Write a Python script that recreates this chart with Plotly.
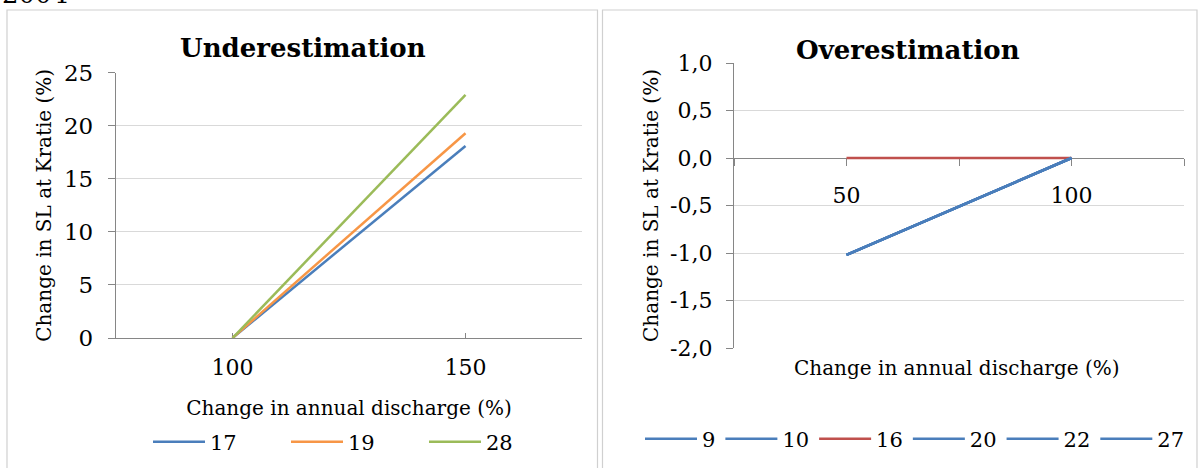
import plotly.graph_objects as go

# ---- data -------------------------------------------------------------
under_x = [100, 150]
under_series = {
    "17": [0.0, 18.1],
    "19": [0.0, 19.3],
    "28": [0.0, 22.9],
}
under_colors = {"17": "#4A7EBB", "19": "#F79646", "28": "#9BBB59"}

over_x = [50, 100]
over_series = {
    "9": [-1.02, 0.0],
    "10": [-1.02, 0.0],
    "16": [0.0, 0.0],
    "20": [-1.02, 0.0],
    "22": [-1.02, 0.0],
    "27": [-1.02, 0.0],
}
over_colors = {"9": "#4A7EBB", "10": "#4A7EBB", "16": "#C0504D",
               "20": "#4A7EBB", "22": "#4A7EBB", "27": "#4A7EBB"}

under_yticks = [0, 5, 10, 15, 20, 25]
over_yticks = [1.0, 0.5, 0.0, -0.5, -1.0, -1.5, -2.0]
over_yticklabels = ["1,0", "0,5", "0,0", "-0,5", "-1,0", "-1,5", "-2,0"]

# ---- layout helpers (pixel -> paper) ----------------------------------
W, H = 1200, 468
FONT = "DejaVu Serif"


def px(x):
    return x / W


def py(y):
    return 1 - y / H


AXIS_COL = "#868686"
GRID_COL = "#D9D9D9"

fig = go.Figure()

for name, vals in under_series.items():
    fig.add_trace(go.Scatter(
        x=under_x, y=vals, name=name, mode="lines",
        line=dict(color=under_colors[name], width=2.5),
        xaxis="x", yaxis="y", legend="legend"))

for name, vals in over_series.items():
    fig.add_trace(go.Scatter(
        x=over_x, y=vals, name=name, mode="lines",
        line=dict(color=over_colors[name], width=2.5),
        xaxis="x2", yaxis="y2", legend="legend2"))

# right panel: x axis crosses at y = 0
y2_bot, y2_top = py(348), py(63)
y2_range = [-2, 1]
cross = y2_bot + (0 - y2_range[0]) / (y2_range[1] - y2_range[0]) * (y2_top - y2_bot)

tickfont = dict(family=FONT, size=22, color="#000000")
ytickfont = dict(family=FONT, size=23, color="#000000")
titlefont = dict(family=FONT, size=20, color="#000000")

common = dict(showline=True, linecolor=AXIS_COL, linewidth=1.3,
              tickcolor=AXIS_COL, zeroline=False,
              automargin=False, fixedrange=True, layer="below traces")

fig.update_layout(
    width=W, height=H,
    margin=dict(l=0, r=0, t=0, b=0, pad=0, autoexpand=False),
    paper_bgcolor="white", plot_bgcolor="white",
    font=dict(family=FONT, color="#000000"),
    xaxis=dict(
        domain=[px(116), px(582)], range=[75, 175],
        tickvals=[75, 100, 150, 175], ticktext=["", "100", "150", ""],
        ticks="inside", ticklen=5, showgrid=False, tickfont=tickfont,
        ticklabelstandoff=9,
        title=dict(text="Change in annual discharge (%)", font=titlefont, standoff=22),
        anchor="y", **common),
    yaxis=dict(
        domain=[py(338), py(72.7)], range=[0, 25],
        tickvals=under_yticks, ticks="outside", ticklen=7, tickfont=ytickfont,
        ticklabelstandoff=10,
        showgrid=True, gridcolor=GRID_COL, gridwidth=1.3,
        title=dict(text="Change in SL at Kratie (%)", font=titlefont, standoff=6),
        anchor="x", **common),
    xaxis2=dict(
        domain=[px(734), px(1184)], range=[25, 125],
        tickvals=[25, 50, 75, 100, 125], ticktext=["", "50", "", "100", ""],
        ticks="outside", ticklen=7, showgrid=False, tickfont=tickfont,
        ticklabelstandoff=10,
        anchor="free", position=cross, **common),
    yaxis2=dict(
        domain=[y2_bot, y2_top], range=y2_range,
        tickvals=over_yticks, ticktext=over_yticklabels,
        ticks="outside", ticklen=7, tickfont=tickfont,
        ticklabelstandoff=9,
        showgrid=True, gridcolor=GRID_COL, gridwidth=1.3,
        title=dict(text="Change in SL at Kratie (%)", font=titlefont, standoff=6),
        anchor="x2", **common),
    legend=dict(
        orientation="h", x=px(148), y=py(442), xanchor="left", yanchor="middle",
        font=dict(family=FONT, size=21, color="#000000"),
        itemwidth=52, entrywidth=71, entrywidthmode="pixels",
        bgcolor="rgba(0,0,0,0)", traceorder="normal"),
    legend2=dict(
        orientation="h", x=px(640), y=py(439), xanchor="left", yanchor="middle",
        font=dict(family=FONT, size=21, color="#000000"),
        itemwidth=52, bgcolor="rgba(0,0,0,0)", traceorder="normal"),
    showlegend=True,
)

# x-axis title of the right panel sits below the plot area
fig.add_annotation(text="Change in annual discharge (%)", x=px(957), y=py(368),
                   xref="paper", yref="paper", xanchor="center", yanchor="middle",
                   showarrow=False, font=titlefont)

# chart titles
fig.add_annotation(text="<b>Underestimation</b>", x=px(303), y=py(48),
                   xref="paper", yref="paper", xanchor="center", yanchor="middle",
                   showarrow=False, font=dict(family=FONT, size=26, color="#000000"))
fig.add_annotation(text="<b>Overestimation</b>", x=px(908), y=py(50),
                   xref="paper", yref="paper", xanchor="center", yanchor="middle",
                   showarrow=False, font=dict(family=FONT, size=26, color="#000000"))

# year label running off the top edge
fig.add_annotation(text="2004", x=0, y=py(11), xref="paper", yref="paper",
                   xanchor="left", yanchor="bottom", showarrow=False,
                   font=dict(family=FONT, size=26, color="#000000"))

# panel frames
for x0, x1 in [(7, 597.5), (602.5, 1197)]:
    fig.add_shape(type="rect", xref="paper", yref="paper",
                  x0=px(x0), x1=px(x1), y0=py(470), y1=py(10),
                  line=dict(color="#D0D0D0", width=1.2), fillcolor="rgba(0,0,0,0)",
                  layer="below")

fig.write_html("out.html")
